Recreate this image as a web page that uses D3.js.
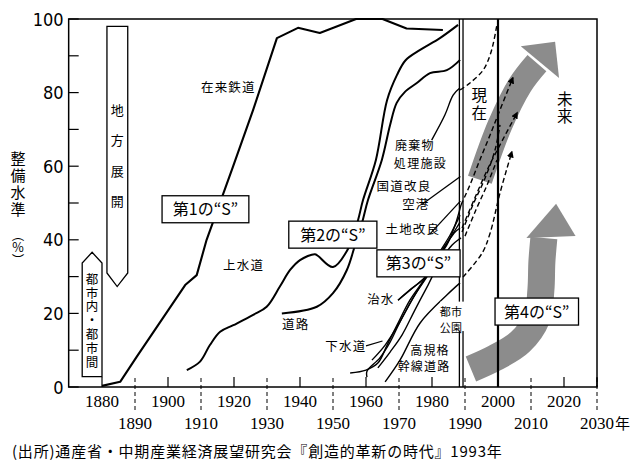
<!DOCTYPE html>
<html><head><meta charset="utf-8">
<script src="https://cdn.jsdelivr.net/npm/d3@7"></script>
<style>
body{margin:0;background:#fff;}
svg{display:block;}
.vt{writing-mode:vertical-rl;}
</style></head><body>
<svg id="c" width="640" height="467"></svg>
<script>
// ---------- data ----------
const majorYears = [1880,1900,1920,1940,1960,1980,2000,2020];
const minorYears = [1890,1910,1930,1950,1970,1990,2010,2030];
const yLabels = [0,20,40,60,80,100];
const yTickAll = [0,10,20,30,40,50,60,70,80,90,100];

// 第1の"S"
const railway = [[1880,0.3],[1885.5,1.4],[1890.5,8.2],[1905.2,27.7],[1908.7,30.4],[1911.7,40],[1919.7,59.9],[1925.8,75.3],[1933,94.8],[1939.4,97.6],[1946,96.2],[1957,100],[1965,100],[1972.3,97.4],[1983.3,97]];
// 第2の"S"
const water = [[1905.7,4.6],[1909.7,6.9],[1912.7,11.4],[1915.8,15.0],[1919.8,16.8],[1925.8,19.6],[1929.9,21.8],[1933.9,27.3],[1937,31.8],[1940,34.5],[1944.5,36.1],[1945.5,35.6],[1950,32.6],[1955.2,38.6],[1957.6,45.4],[1959.1,50.8],[1963,61.7],[1966.4,78],[1969.4,84.8],[1972,88.8],[1976.4,91.6],[1982.4,94.8],[1987.9,98.4]];
const road = [[1934.5,20],[1945.1,21.8],[1950,25.5],[1954.2,31.8],[1956.7,38.6],[1958.8,44.6],[1960.6,50.8],[1964.8,61.7],[1967.3,71.2],[1969.3,77.2],[1971.8,80.2],[1975.4,82.6],[1979.4,85.3],[1984.5,86.1],[1988.5,88.9]];
// 第3の"S" (solid = actual, dashed = outlook)
const waste = [[1979.9,67.1],[1983.9,73.9],[1986.4,79.3],[1988.5,81.3]];
const sewer = [[1955.2,3.8],[1960,4.6],[1963.6,6.5],[1966.4,11.4],[1969.4,16.8],[1973.3,23.6],[1977.9,29.6],[1981.5,35.1],[1984.5,39.1],[1987,42.1],[1988.5,43.2]];
const landImp = [[1960.3,2.7],[1960.3,4.3],[1964.2,7.9],[1967.3,12.2],[1970.3,17.7],[1974.8,25],[1978.8,30.4],[1982.4,35.9],[1986.1,41.3],[1988.5,44.8]];
const expressway = [[1965.8,1.4],[1970.3,7.3],[1976.4,17.4],[1984.5,25],[1988.5,28.3]];
const flood = [[1969.7,23.6],[1973.3,26.4],[1977.3,29.3],[1980.9,34],[1984.5,38.6],[1987,44],[1988.8,49.5]];
const natRoad = [[1961.8,7.3],[1965.8,11.4],[1969.7,16.8],[1973.9,23.6],[1977.9,29.6],[1981.8,35.9],[1985.5,41.3],[1988.5,46.7]];
const airport = [[1963.6,5.2],[1967.3,9.5],[1970.9,14.1],[1974.8,20.9],[1978.8,27.7],[1982.4,34],[1986.1,38.6],[1988.8,40.5]];
const smoothSeries = [water, road, waste, sewer, landImp, expressway, flood, natRoad, airport];

const wasteOut = [[1988.5,80.7],[1991.5,82.6],[1995.5,86.1],[1997.6,90.2],[1998.8,94.3],[1999.7,98.6]];
const outB = [[1988.8,49.5],[1991.5,54.9],[1994.5,61.7],[1997.6,68.5],[2000.6,75.3],[2004.5,84]];
const outC = [[1989.1,43.2],[1993,51.4],[1997,59.5],[2000.6,65.8],[2005.8,74.5]];
const outD = [[1989.1,42.1],[1992.4,49.5],[1996.1,56.8],[1999.1,64.4],[2000.6,71.2]];
const outE = [[1990,41],[1993.3,48.1],[1996.7,54.9],[1999.7,61.7]];
const outF = [[1989.4,29.9],[1995.2,36.4],[1997.6,41.8],[2000.6,52.7],[2004.2,63.9]];
const dashedSeries = [wasteOut, outD, outE];
const dashedArrowSeries = [outB, outC, outF];

// grey trend arrows (centre lines) and heads
const arrow3 = [[1994.5,56.3],[2000.6,71.2],[2006.7,82.1],[2011.8,88]];
const arrow3Head = [[2006.9,92.6],[2017.3,93.8],[2018.5,84]];
const arrow4 = [[1991.8,4.9],[1999.1,7.9],[2006.7,12.2],[2011.8,18.8],[2013,26.4],[2013.3,34],[2013.9,40.5]];
const arrow4Head = [[2008.6,40.5],[2017.6,49.8],[2023.5,41]];

// period lines
const nowLines = [1988.3,1989.4];
const futureLine = [2000];

// ---------- drawing ----------
const svg = d3.select("#c");
const x = d3.scaleLinear().domain([1880,2030]).range([102,597]);
const y = d3.scaleLinear().domain([0,100]).range([387,19]);
const left = x(1869.9);
const CJK = '"Noto Sans CJK JP","Noto Sans CJK SC",sans-serif';
const SERIF = '"Liberation Serif","DejaVu Serif",serif';

const line = d3.line().x(d=>x(d[0])).y(d=>y(d[1])).curve(d3.curveCatmullRom.alpha(0.5));
const lineLin = d3.line().x(d=>x(d[0])).y(d=>y(d[1]));

svg.append("defs").append("marker").attr("id","ah").attr("viewBox","0 0 10 10")
  .attr("refX",8).attr("refY",5).attr("markerWidth",7).attr("markerHeight",7)
  .attr("orient","auto").attr("markerUnits","userSpaceOnUse")
  .append("path").attr("d","M0,0L10,5L0,10z").attr("fill","#000");

// grey arrows
const grey = "#8c8c8c";
[[arrow3,arrow3Head,25],[arrow4,arrow4Head,27]].forEach(([c,h,w])=>{
  svg.append("path").attr("d",line(c)).attr("fill","none").attr("stroke",grey).attr("stroke-width",w);
  svg.append("path").attr("d",lineLin(h)+"Z").attr("fill",grey);
});

// frame
svg.append("rect").attr("x",left).attr("y",y(100)).attr("width",x(2030)-left).attr("height",y(0)-y(100))
  .attr("fill","none").attr("stroke","#000").attr("stroke-width",1.5);

// period vertical lines
svg.selectAll(".now").data(nowLines).join("line").attr("x1",d=>x(d)).attr("x2",d=>x(d))
  .attr("y1",y(100)).attr("y2",y(0)).attr("stroke","#000").attr("stroke-width",1.3);
svg.selectAll(".fut").data(futureLine).join("line").attr("x1",d=>x(d)).attr("x2",d=>x(d))
  .attr("y1",y(100)).attr("y2",y(0)).attr("stroke","#000").attr("stroke-width",2.2);

// y ticks (inward)
svg.selectAll(".yt").data(yTickAll).join("line").attr("x1",left).attr("x2",left+10)
  .attr("y1",d=>y(d)).attr("y2",d=>y(d)).attr("stroke","#000").attr("stroke-width",1.2);
svg.selectAll(".yl").data(yLabels).join("text").attr("x",left-5).attr("y",d=>y(d)+6.5)
  .attr("text-anchor","end").attr("font-family",'"Liberation Sans Narrow","DejaVu Sans Condensed",sans-serif')
  .attr("font-size",18).text(d=>d);

// x ticks
svg.selectAll(".xt").data(majorYears.concat([2030])).join("line").attr("x1",d=>x(d)).attr("x2",d=>x(d))
  .attr("y1",y(0)-10).attr("y2",y(0)).attr("stroke","#000").attr("stroke-width",1.2);
svg.selectAll(".xd").data(minorYears).join("line").attr("x1",d=>x(d)).attr("x2",d=>x(d))
  .attr("y1",y(0)-9).attr("y2",y(0)+25).attr("stroke","#000").attr("stroke-width",1)
  .attr("stroke-dasharray","4,3");
svg.selectAll(".xl").data(majorYears).join("text").attr("x",d=>x(d)).attr("y",407)
  .attr("text-anchor","middle").attr("font-family",SERIF).attr("font-size",17).text(d=>d);
svg.selectAll(".xl2").data(minorYears).join("text").attr("x",d=>x(d)).attr("y",429)
  .attr("text-anchor","middle").attr("font-family",SERIF).attr("font-size",17).text(d=>d);
svg.append("text").attr("x",x(2030)+18).attr("y",429).attr("font-family",CJK).attr("font-size",15).text("年");

// solid series
svg.append("path").attr("d",lineLin(railway)).attr("fill","none").attr("stroke","#000")
  .attr("stroke-width",2.1).attr("stroke-linejoin","round");
svg.selectAll(".s").data(smoothSeries).join("path").attr("d",line).attr("fill","none")
  .attr("stroke","#000").attr("stroke-width",(d,i)=>i<2?2:1.4).attr("stroke-linejoin","round");
svg.selectAll(".d").data(dashedSeries).join("path").attr("d",line).attr("fill","none")
  .attr("stroke","#000").attr("stroke-width",1.4).attr("stroke-dasharray","5,3");
svg.selectAll(".da").data(dashedArrowSeries).join("path").attr("d",line).attr("fill","none")
  .attr("stroke","#000").attr("stroke-width",1.4).attr("stroke-dasharray","5,3").attr("marker-end","url(#ah)");

// leader lines
const leaders = [
  [[1976.8,49.5],[1988.6,57.2]],   // 空港
  [[1979.4,41.6],[1988.6,50.5]],   // 土地改良
  [[1969.7,23.6],[1977.3,29.3]],   // 治水
  [[1960,11.2],[1965,12.5]]        // 下水道
];
svg.selectAll(".ld").data(leaders).join("path").attr("d",lineLin).attr("fill","none")
  .attr("stroke","#000").attr("stroke-width",1.3);

// vertical (tategaki) text as one element
function vtext(str, cx, firstCenter, step, size){
  svg.append("text").attr("class","vt").attr("x",cx).attr("y",firstCenter-size/2)
    .attr("font-family",CJK).attr("font-size",size).attr("letter-spacing",step-size).text(str);
}
// multi-line horizontal text as one element
function mtext(rows, size, ls){
  const t = svg.append("text").attr("text-anchor","middle").attr("font-family",CJK)
    .attr("font-size",size).attr("letter-spacing",ls||0);
  rows.forEach(r=>t.append("tspan").attr("x",x(r.yr)).attr("y",y(r.v)+size*0.36).text(r.t));
}

// 地方展開 (points down)
svg.append("path").attr("d",`M${x(1881.5)},${y(98)}H${x(1887.8)}V${y(31)}L${x(1884.6)},${y(27.3)}L${x(1881.5)},${y(31)}Z`)
  .attr("fill","#fff").attr("stroke","#000").attr("stroke-width",1.3);
vtext("地方展開", x(1884.6), 110, 30.5, 13);
// 都市内・都市間 (points up)
svg.append("path").attr("d",`M${x(1874)},${y(2.8)}V${y(33.7)}L${x(1877)},${y(36.6)}L${x(1880)},${y(33.7)}V${y(2.8)}Z`)
  .attr("fill","#fff").attr("stroke","#000").attr("stroke-width",1.3);
vtext("都市内・都市間", x(1877), 279, 13.8, 12.5);

// y title
vtext("整備水準", 18, 158, 17, 15);
vtext("（％）", 18, 235, 12.5, 12.5);

// boxed "S" labels
const boxes = [
  {t:"第1の“S”", x0:1898.2, x1:1924.5, v:48.3},
  {t:"第2の“S”", x0:1936.6, x1:1963.3, v:41.4},
  {t:"第3の“S”", x0:1963.3, x1:1988.5, v:33.6},
  {t:"第4の“S”", x0:1999.1, x1:2024.4, v:20.5}
];
boxes.forEach(b=>{
  const g = svg.append("g");
  g.append("rect").attr("x",x(b.x0)).attr("y",y(b.v)-13.5).attr("width",x(b.x1)-x(b.x0)).attr("height",27)
    .attr("fill","#fff").attr("stroke","#000").attr("stroke-width",1.3);
  g.append("text").attr("x",(x(b.x0)+x(b.x1))/2).attr("y",y(b.v)+6).attr("text-anchor","middle")
    .attr("font-family",CJK).attr("font-size",16).text(b.t);
});

// series labels
const labels = [
  {t:"在来鉄道", yr:1918.3, v:81.4},
  {t:"上水道", yr:1922.9, v:32.9},
  {t:"道路", yr:1938.7, v:17.1},
  {t:"国道改良", yr:1971.5, v:54.6},
  {t:"空港", yr:1975.1, v:49.7},
  {t:"土地改良", yr:1974.2, v:42.8},
  {t:"治水", yr:1964.5, v:23.8},
  {t:"下水道", yr:1953.9, v:11.1}
];
svg.selectAll(".lb").data(labels).join("text").attr("x",d=>x(d.yr)).attr("y",d=>y(d.v)+4.5)
  .attr("text-anchor","middle").attr("font-family",CJK).attr("font-size",12.5).attr("letter-spacing",1.2)
  .text(d=>d.t);
mtext([{t:"廃棄物",yr:1974.8,v:65.5},{t:"処理施設",yr:1976.5,v:60.6}], 12, 1.3);
mtext([{t:"高規格",yr:1979.4,v:9.8},{t:"幹線道路",yr:1977.6,v:5.6}], 12, 1.2);

// 都市公園 with white background
svg.append("rect").attr("x",x(1982.5)).attr("y",y(23.2)).attr("width",x(1992)-x(1982.5)).attr("height",y(15.2)-y(23.2))
  .attr("fill","#fff");
mtext([{t:"都市",yr:1985.8,v:20.4},{t:"公園",yr:1985.8,v:15.9}], 11, 0.5);

// 現在 / 未来
vtext("現在", x(1994.3), 95, 18, 15.5);
vtext("未来", x(2020.2), 99, 17.5, 15.5);

// source
svg.append("text").attr("x",12).attr("y",457).attr("font-family",CJK).attr("font-size",15).attr("letter-spacing",0.8)
  .text("(出所)通産省・中期産業経済展望研究会『創造的革新の時代』1993年");
</script></body></html>
